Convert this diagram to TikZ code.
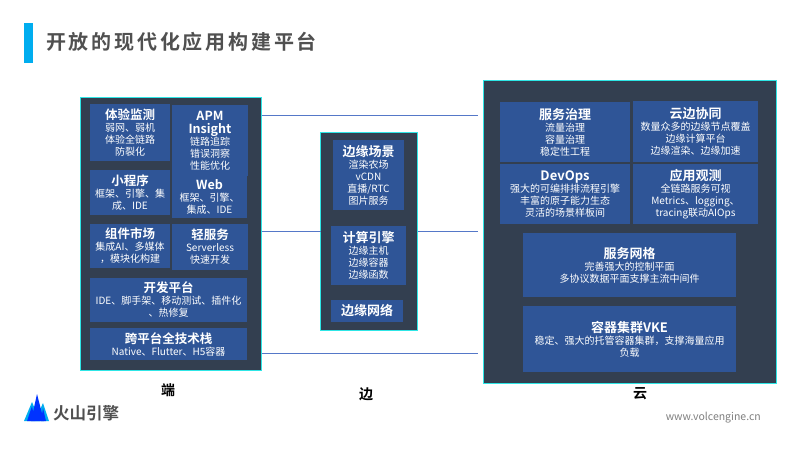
\documentclass[tikz,border=0pt]{standalone}
\usepackage{fontspec}
\setmainfont{Noto Sans CJK SC}[BoldFont={Noto Sans CJK SC Bold}]
\newfontfamily\titlefont{Noto Sans CJK SC Bold}[LetterSpace=14]
\usetikzlibrary{calc}
\definecolor{panelc}{HTML}{333F50}
\definecolor{boxc}{HTML}{2F5597}
\definecolor{edgec}{HTML}{2EE6E6}
\definecolor{wirec}{HTML}{5578C8}
\definecolor{titlec}{HTML}{505050}
\tikzset{
  x=1pt,y=-1pt,
  panel/.style={draw=edgec,fill=panelc,line width=0.9pt,inner sep=0,outer sep=0},
  box/.style={fill=boxc,inner sep=0,outer sep=0},
  txt/.style={text=white,align=center,inner sep=0,font=\fontsize{10}{12}\selectfont},
  wire/.style={wirec,line width=1.1pt},
  side/.style={font=\fontsize{14}{16}\selectfont\bfseries,text=black,inner sep=0},
}
\newcommand{\hd}[1]{{\fontsize{12.5}{15}\selectfont\bfseries #1}}
\newcommand{\hb}[1]{{\fontsize{13}{15}\selectfont\bfseries #1}}
\newcommand{\rbox}[6][box]{%
  \node[#1,minimum width=#5pt-#3pt,minimum height=#6pt-#4pt,anchor=north west] (#2) at (#3,#4) {};}
\begin{document}
\begin{tikzpicture}
\useasboundingbox (0,0) rectangle (800,450);
\fill[white] (0,0) rectangle (800,450);
% panels
\rbox[panel]{pl}{80.5}{97.5}{261.5}{370.5}
\rbox[panel]{pm}{320.5}{132.5}{417.5}{330}
\rbox[panel]{pr}{483.5}{80}{776.5}{383.5}
% connectors
\coordinate (ca) at (478,115.5);
\coordinate (cb) at (478,231.5);
\coordinate (cc) at (478,353.5);
\draw[wire] (pl.east|-ca) -- (ca);
\draw[wire] (pl.east|-cb) -- (pm.west|-cb);
\draw[wire] (pm.east|-cb) -- (cb);
\draw[wire] (pl.east|-cc) -- (cc);
% title
\node[fill=cyan,minimum width=9pt,minimum height=40pt,inner sep=0,anchor=north west] (bar) at (24,23) {};
\node[anchor=west,inner sep=0,text=titlec,font=\fontsize{20}{23}\selectfont\titlefont] (title) at (46,42) {开放的现代化应用构建平台};
% left boxes
\rbox{l1}{90}{104}{170}{161}
\rbox{l2}{172}{105}{248}{176}
\rbox{l3}{172}{176}{247}{218}
\rbox{l4}{90}{170}{170}{215}
\rbox{l5}{90}{224}{170}{268}
\rbox{l6}{172}{224}{248}{270}
\rbox{l7}{90}{278}{247}{322}
\rbox{l8}{90}{328}{247}{360}
\node[txt] at (l1) {\hd{体验监测}\\弱网、弱机\\体验全链路\\防裂化};
\node[txt] at (l2) {\hd{APM}\\[1pt]\hd{Insight}\\链路追踪\\错误洞察\\性能优化};
\node[txt] at (l3) {\hd{Web}\\框架、引擎、\\集成、IDE};
\node[txt] at (l4) {\hd{小程序}\\框架、引擎、集\\成、IDE};
\node[txt] at (l5) {\hd{组件市场}\\集成AI、多媒体\\，模块化构建};
\node[txt] at (l6) {\hd{轻服务}\\Serverless\\快速开发};
\node[txt] at (l7) {\hd{开发平台}\\IDE、脚手架、移动测试、插件化\\、热修复};
\node[txt] at (l8) {\hd{跨平台全技术栈}\\Native、Flutter、H5容器};
% middle boxes
\rbox{m1}{333}{140}{404}{210}
\rbox{m2}{331}{226}{406}{285}
\rbox{m3}{331}{300}{403}{322}
\node[txt] at (m1) {\hb{边缘场景}\\渲染农场\\vCDN\\直播/RTC\\图片服务};
\node[txt] at (m2) {\hb{计算引擎}\\边缘主机\\边缘容器\\边缘函数};
\node[txt] at (m3) {\hb{边缘网络}};
% right boxes
\rbox{r1}{500}{102}{630}{162}
\rbox{r2}{633}{101}{758}{162}
\rbox{r3}{500}{164}{630}{224}
\rbox{r4}{633}{164}{758}{224}
\rbox{r5}{523}{233}{736}{297}
\rbox{r6}{523}{306}{736}{372}
\node[txt] at (r1) {\hb{服务治理}\\流量治理\\容量治理\\稳定性工程};
\node[txt] at (r2) {\hb{云边协同}\\数量众多的边缘节点覆盖\\边缘计算平台\\边缘渲染、边缘加速};
\node[txt] at (r3) {\hb{DevOps}\\强大的可编排排流程引擎\\丰富的原子能力生态\\灵活的场景样板间};
\node[txt] at (r4) {\hb{应用观测}\\全链路服务可视\\Metrics、logging、\\tracing联动AIOps};
\node[txt] at (r5) {\hb{服务网格}\\完善强大的控制平面\\多协议数据平面支撑主流中间件};
\node[txt] at (r6) {\hb{容器集群VKE}\\稳定、强大的托管容器集群，支撑海量应用\\负载};
% side labels
\node[side] (sd) at (168,390) {端};
\node[side] (sb) at (366,394) {边};
\node[side] (sy) at (640,394) {云};
% logo
\fill[cyan] (24,421) -- (32,402) -- (40,421) -- cycle;
\fill[cyan] (35,421) -- (43,403) -- (49,421) -- cycle;
\fill[blue!80!cyan] (27,421) -- (32,406) -- (35,421) -- cycle;
\fill[blue!80!cyan] (31,421) -- (37,394) -- (44,421) -- cycle;
\fill[blue!80!cyan] (41,421) -- (43,408) -- (46,421) -- cycle;
\node[anchor=west,inner sep=0,text=titlec,font=\fontsize{16.5}{18}\selectfont\bfseries] (logo) at (53,413) {火山引擎};
\node[anchor=east,inner sep=0,text=gray,font=\fontsize{10.5}{12}\selectfont] (url) at (761,418) {www.volcengine.cn};
\end{tikzpicture}
\end{document}
